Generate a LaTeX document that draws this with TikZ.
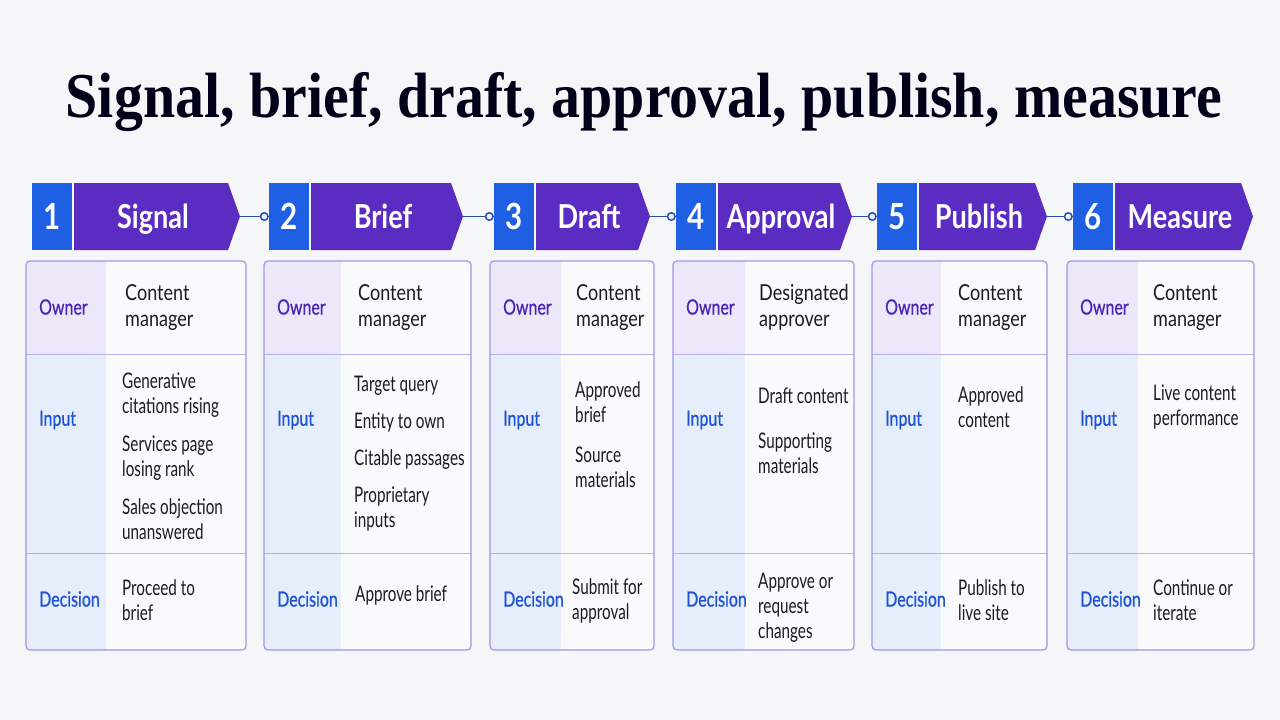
\documentclass[tikz,border=0pt]{standalone}
\usepackage{fontspec}
\setmainfont[FakeStretch=0.82]{Lato}
\newfontfamily\titlefont[FakeStretch=0.905]{Liberation Serif}
\newfontfamily\cellfont[FakeStretch=0.71]{Lato}
\newfontfamily\labfont[FakeStretch=0.76, FakeBold=0.6]{Lato}
\usetikzlibrary{calc,arrows.meta}
\definecolor{bgcol}{HTML}{F5F6F8}
\definecolor{numcol}{HTML}{1F5FE3}
\definecolor{purp}{HTML}{5A2CC2}
\definecolor{linkcol}{HTML}{2A4DB5}
\definecolor{tabcol}{HTML}{A295E6}
\definecolor{rowcol}{HTML}{B9B1EC}
\definecolor{ownfill}{HTML}{ECE7F9}
\definecolor{labfill}{HTML}{E6EDFB}
\definecolor{valfill}{HTML}{F9FAFB}
\definecolor{owntext}{HTML}{4A24B6}
\definecolor{labtext}{HTML}{1D52D6}
\definecolor{valtext}{HTML}{1B1B22}
\tikzset{
	numbox/.style={fill=numcol, text=white, minimum width=40pt, minimum height=67pt, inner sep=0pt, font=\fontsize{36}{36}\selectfont\bfseries},
	headtext/.style={text=white, inner sep=0pt, text height=23pt, text depth=0pt, font=\fontsize{33}{33}\selectfont\bfseries},
	link/.style={draw=linkcol, line width=1.5pt, -{Circle[open, length=9pt]}},
	tabline/.style={draw=tabcol, line width=1.2pt},
	rowline/.style={draw=rowcol, line width=1pt},
	ownlab/.style={anchor=west, inner sep=0pt, text=owntext, font=\labfont\fontsize{21}{25}\selectfont},
	lab/.style={anchor=west, inner sep=0pt, text=labtext, font=\labfont\fontsize{21}{25}\selectfont},
	val/.style={anchor=west, align=left, inner sep=0pt, text=valtext, font=\cellfont\fontsize{21.5}{25}\selectfont},
	ownval/.style={val, font=\fontsize{22}{26}\selectfont}
}
\newcommand{\stephead}[5]{
	\node[numbox] (num#1) at (#4+20,216.5) {#2};
	\fill[purp] (#4+42,183) -- (#5-12,183) -- (#5,216.5) -- (#5-12,250) -- (#4+42,250) -- cycle;
	\node[headtext] (head#1) at ($(#4+44,216.5)!0.5!(#5-10,216.5)$) {#3};
	\coordinate (tip#1) at (#5,216.5);
}
\newcommand{\steptable}[4]{
	\begin{scope}
	\clip[rounded corners=4pt] (#2,261) rectangle (#4,650);
	\fill[ownfill] (#2,261) rectangle (#3,354);
	\fill[labfill] (#2,354) rectangle (#3,650);
	\fill[valfill] (#3,261) rectangle (#4,650);
	\end{scope}
	\draw[rowline] (#2,354) -- (#4,354) (#2,553) -- (#4,553);
	\draw[tabline, rounded corners=4pt] (#2,261) rectangle (#4,650);
	\node[ownlab] (own#1) at (#2+13,307) {Owner};
	\node[lab] (inp#1) at (#2+13,420) {Input};
	\node[lab] (dec#1) at (#2+13,599) {Decision};
}

\begin{document}
\begin{tikzpicture}[x=1pt,y=-1pt]
	\fill[bgcol] (0,0) rectangle (1280,720);
	\node[anchor=base, inner sep=0pt, font=\titlefont\bfseries\fontsize{64}{64}\selectfont, text=black!90!blue] (title) at (644,117) {Signal, brief, draft, approval, publish, measure};

	\stephead{1}{1}{Signal}{32}{240}
	\stephead{2}{2}{Brief}{269}{463}
	\stephead{3}{3}{Draft}{494}{650}
	\stephead{4}{4}{Approval}{676}{852}
	\stephead{5}{5}{Publish}{877}{1047}
	\stephead{6}{6}{Measure}{1073}{1253}

	\draw[link] (tip1) -- (num2.west);
	\draw[link] (tip2) -- (num3.west);
	\draw[link] (tip3) -- (num4.west);
	\draw[link] (tip4) -- (num5.west);
	\draw[link] (tip5) -- (num6.west);

	\steptable{1}{26}{106}{246}
	\steptable{2}{264}{341}{471}
	\steptable{3}{490}{561}{654}
	\steptable{4}{673}{745}{854}
	\steptable{5}{872}{941}{1047}
	\steptable{6}{1067}{1138}{1254}

	\node[ownval] (own1v) at (125,307.5) {Content\\manager};
	\node[val] (inp1v) at (122,456.5) {Generative\\citations rising\\[13pt]Services page\\losing rank\\[13pt]Sales objection\\unanswered};
	\node[val] (dec1v) at (122,600) {Proceed to\\brief};

	\node[ownval] (own2v) at (358,307.5) {Content\\manager};
	\node[val] (inp2v) at (354,453.5) {Target query\\[12pt]Entity to own\\[12pt]Citable passages\\[12pt]Proprietary\\inputs};
	\node[val] (dec2v) at (355,595) {Approve brief};

	\node[ownval] (own3v) at (576,307.5) {Content\\manager};
	\node[val] (inp3v) at (575,435) {Approved\\brief\\[15pt]Source\\materials};
	\node[val] (dec3v) at (572,600.5) {Submit for\\approval};

	\node[ownval] (own4v) at (759,307.5) {Designated\\approver};
	\node[val] (inp4v) at (758,431) {Draft content\\[20pt]Supporting\\materials};
	\node[val] (dec4v) at (758,608) {Approve or\\request\\changes};

	\node[ownval] (own5v) at (958,307.5) {Content\\manager};
	\node[val] (inp5v) at (958,407) {Approved\\content};
	\node[val] (dec5v) at (958,600.5) {Publish to\\live site};

	\node[ownval] (own6v) at (1153,307.5) {Content\\manager};
	\node[val] (inp6v) at (1153,407) {Live content\\performance};
	\node[val] (dec6v) at (1153,600.5) {Continue or\\iterate};
\end{tikzpicture}
\end{document}
